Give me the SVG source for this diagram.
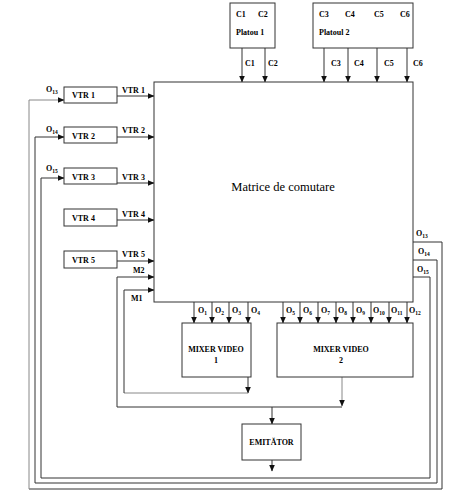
<svg xmlns="http://www.w3.org/2000/svg" width="473" height="500" viewBox="0 0 473 500">
<defs>
<marker id="ah" markerWidth="7" markerHeight="6" refX="6.5" refY="3" orient="auto" markerUnits="userSpaceOnUse">
<path d="M0,0 L7,3 L0,6 Z" fill="#111"/>
</marker>
</defs>
<style>
.box{fill:#fff;stroke:#333;stroke-width:1}
.ln{fill:none;stroke:#333;stroke-width:1}
.gr{fill:none;stroke:#888;stroke-width:1}
.ar{marker-end:url(#ah)}
.t{font-family:"Liberation Serif",serif;font-size:8px;font-weight:bold;fill:#000}
.s{font-size:5.5px}
.m{font-family:"Liberation Serif",serif;font-size:12.5px;fill:#000}
</style>
<rect width="473" height="500" fill="#fff"/>
<g id="connectors">
<line class="ln ar" x1="242" y1="48" x2="242" y2="82"/>
<line class="ln ar" x1="265" y1="48" x2="265" y2="82"/>
<line class="ln ar" x1="324" y1="48" x2="324" y2="82"/>
<line class="ln ar" x1="348" y1="48" x2="348" y2="82"/>
<line class="ln ar" x1="377" y1="48" x2="377" y2="82"/>
<line class="ln ar" x1="407" y1="48" x2="407" y2="82"/>
<line class="ln ar" x1="117" y1="96" x2="154" y2="96"/>
<line class="ln ar" x1="117" y1="137" x2="154" y2="137"/>
<line class="ln ar" x1="117" y1="183" x2="154" y2="183"/>
<line class="ln ar" x1="117" y1="220" x2="154" y2="220"/>
<line class="ln ar" x1="117" y1="261" x2="154" y2="261"/>
<line class="ln ar" x1="194" y1="302" x2="194" y2="323"/>
<line class="ln ar" x1="212" y1="302" x2="212" y2="323"/>
<line class="ln ar" x1="229" y1="302" x2="229" y2="323"/>
<line class="ln ar" x1="248" y1="302" x2="248" y2="323"/>
<line class="ln ar" x1="283" y1="302" x2="283" y2="323"/>
<line class="ln ar" x1="300" y1="302" x2="300" y2="323"/>
<line class="ln ar" x1="318" y1="302" x2="318" y2="323"/>
<line class="ln ar" x1="336" y1="302" x2="336" y2="323"/>
<line class="ln ar" x1="353" y1="302" x2="353" y2="323"/>
<line class="ln ar" x1="371" y1="302" x2="371" y2="323"/>
<line class="ln ar" x1="389" y1="302" x2="389" y2="323"/>
<line class="ln ar" x1="407" y1="302" x2="407" y2="323"/>
<line class="ln ar" x1="248" y1="377" x2="248" y2="393"/>
<line class="gr" x1="248" y1="393" x2="124" y2="393"/>
<polyline class="ln ar" points="124,393 124,290 154,290"/>
<line class="gr ar" x1="342" y1="377" x2="342" y2="406"/>
<polyline class="ln ar" points="342,407 117,407 117,277 154,277"/>
<line class="ln ar" x1="272" y1="407" x2="272" y2="424"/>
<line class="ln ar" x1="272" y1="460" x2="272" y2="471"/>
<polyline class="ln" points="413,242 442,242 442,489 29,489"/>
<polyline class="gr ar" points="29,489 29,100 64,100"/>
<polyline class="ln ar" points="413,260 437,260 437,483 35,483 35,137 64,137"/>
<polyline class="ln ar" points="413,277 430,277 430,478 41,478 41,178 64,178"/>
</g>
<g id="platou1">
<rect class="box" x="230" y="3" width="45" height="45"/>
<text class="t" x="236" y="17">C1</text>
<text class="t" x="258" y="17">C2</text>
<text class="t" x="236" y="35">Platou 1</text>
</g>
<g id="platou2">
<rect class="box" x="313" y="3" width="100" height="45"/>
<text class="t" x="319" y="17">C3</text>
<text class="t" x="345" y="17">C4</text>
<text class="t" x="374" y="17">C5</text>
<text class="t" x="400" y="17">C6</text>
<text class="t" x="319" y="35">Platoul 2</text>
</g>
<g id="cam-labels">
<text class="t" x="245" y="66">C1</text>
<text class="t" x="268" y="66">C2</text>
<text class="t" x="331" y="66">C3</text>
<text class="t" x="354" y="66">C4</text>
<text class="t" x="384" y="66">C5</text>
<text class="t" x="413" y="66">C6</text>
</g>
<g id="matrice">
<rect class="box" x="154" y="82" width="259" height="220"/>
<text class="m" x="283" y="191" text-anchor="middle">Matrice de comutare</text>
</g>
<g id="vtr1">
<rect class="box" x="64" y="87" width="53" height="16"/>
<text class="t" x="72" y="98">VTR 1</text>
</g>
<g id="vtr2">
<rect class="box" x="64" y="127" width="53" height="16"/>
<text class="t" x="72" y="139">VTR 2</text>
</g>
<g id="vtr3">
<rect class="box" x="64" y="168" width="53" height="16"/>
<text class="t" x="72" y="180">VTR 3</text>
</g>
<g id="vtr4">
<rect class="box" x="64" y="209" width="53" height="17"/>
<text class="t" x="72" y="221">VTR 4</text>
</g>
<g id="vtr5">
<rect class="box" x="64" y="251" width="53" height="17"/>
<text class="t" x="72" y="263">VTR 5</text>
</g>
<g id="in-labels">
<text class="t" x="122" y="93">VTR 1</text>
<text class="t" x="122" y="133">VTR 2</text>
<text class="t" x="122" y="180">VTR 3</text>
<text class="t" x="122" y="217">VTR 4</text>
<text class="t" x="122" y="257">VTR 5</text>
<text class="t" x="133" y="273">M2</text>
<text class="t" x="131" y="301">M1</text>
<text class="t" x="46" y="92">O<tspan class="s" dy="2">13</tspan></text>
<text class="t" x="46" y="132">O<tspan class="s" dy="2">14</tspan></text>
<text class="t" x="46" y="171">O<tspan class="s" dy="2">15</tspan></text>
<text class="t" x="416" y="236">O<tspan class="s" dy="2">13</tspan></text>
<text class="t" x="418" y="254">O<tspan class="s" dy="2">14</tspan></text>
<text class="t" x="417" y="272">O<tspan class="s" dy="2">15</tspan></text>
</g>
<g id="out-labels">
<text class="t" x="198" y="313">O<tspan class="s" dy="2">1</tspan></text>
<text class="t" x="215" y="313">O<tspan class="s" dy="2">2</tspan></text>
<text class="t" x="232" y="313">O<tspan class="s" dy="2">3</tspan></text>
<text class="t" x="251" y="313">O<tspan class="s" dy="2">4</tspan></text>
<text class="t" x="286" y="313">O<tspan class="s" dy="2">5</tspan></text>
<text class="t" x="303" y="313">O<tspan class="s" dy="2">6</tspan></text>
<text class="t" x="321" y="313">O<tspan class="s" dy="2">7</tspan></text>
<text class="t" x="338" y="313">O<tspan class="s" dy="2">8</tspan></text>
<text class="t" x="356" y="313">O<tspan class="s" dy="2">9</tspan></text>
<text class="t" x="373" y="313">O<tspan class="s" dy="2">10</tspan></text>
<text class="t" x="391" y="313">O<tspan class="s" dy="2">11</tspan></text>
<text class="t" x="409" y="313">O<tspan class="s" dy="2">12</tspan></text>
</g>
<g id="mixer1">
<rect class="box" x="182" y="323" width="69" height="54"/>
<text class="t" x="216" y="352" text-anchor="middle">MIXER VIDEO</text>
<text class="t" x="216" y="363" text-anchor="middle">1</text>
</g>
<g id="mixer2">
<rect class="box" x="277" y="323" width="136" height="54"/>
<text class="t" x="341" y="352" text-anchor="middle">MIXER VIDEO</text>
<text class="t" x="341" y="363" text-anchor="middle">2</text>
</g>
<g id="emitator">
<rect class="box" x="242" y="424" width="59" height="36"/>
<text class="t" x="271.5" y="445" text-anchor="middle">EMITĂTOR</text>
</g>
</svg>
